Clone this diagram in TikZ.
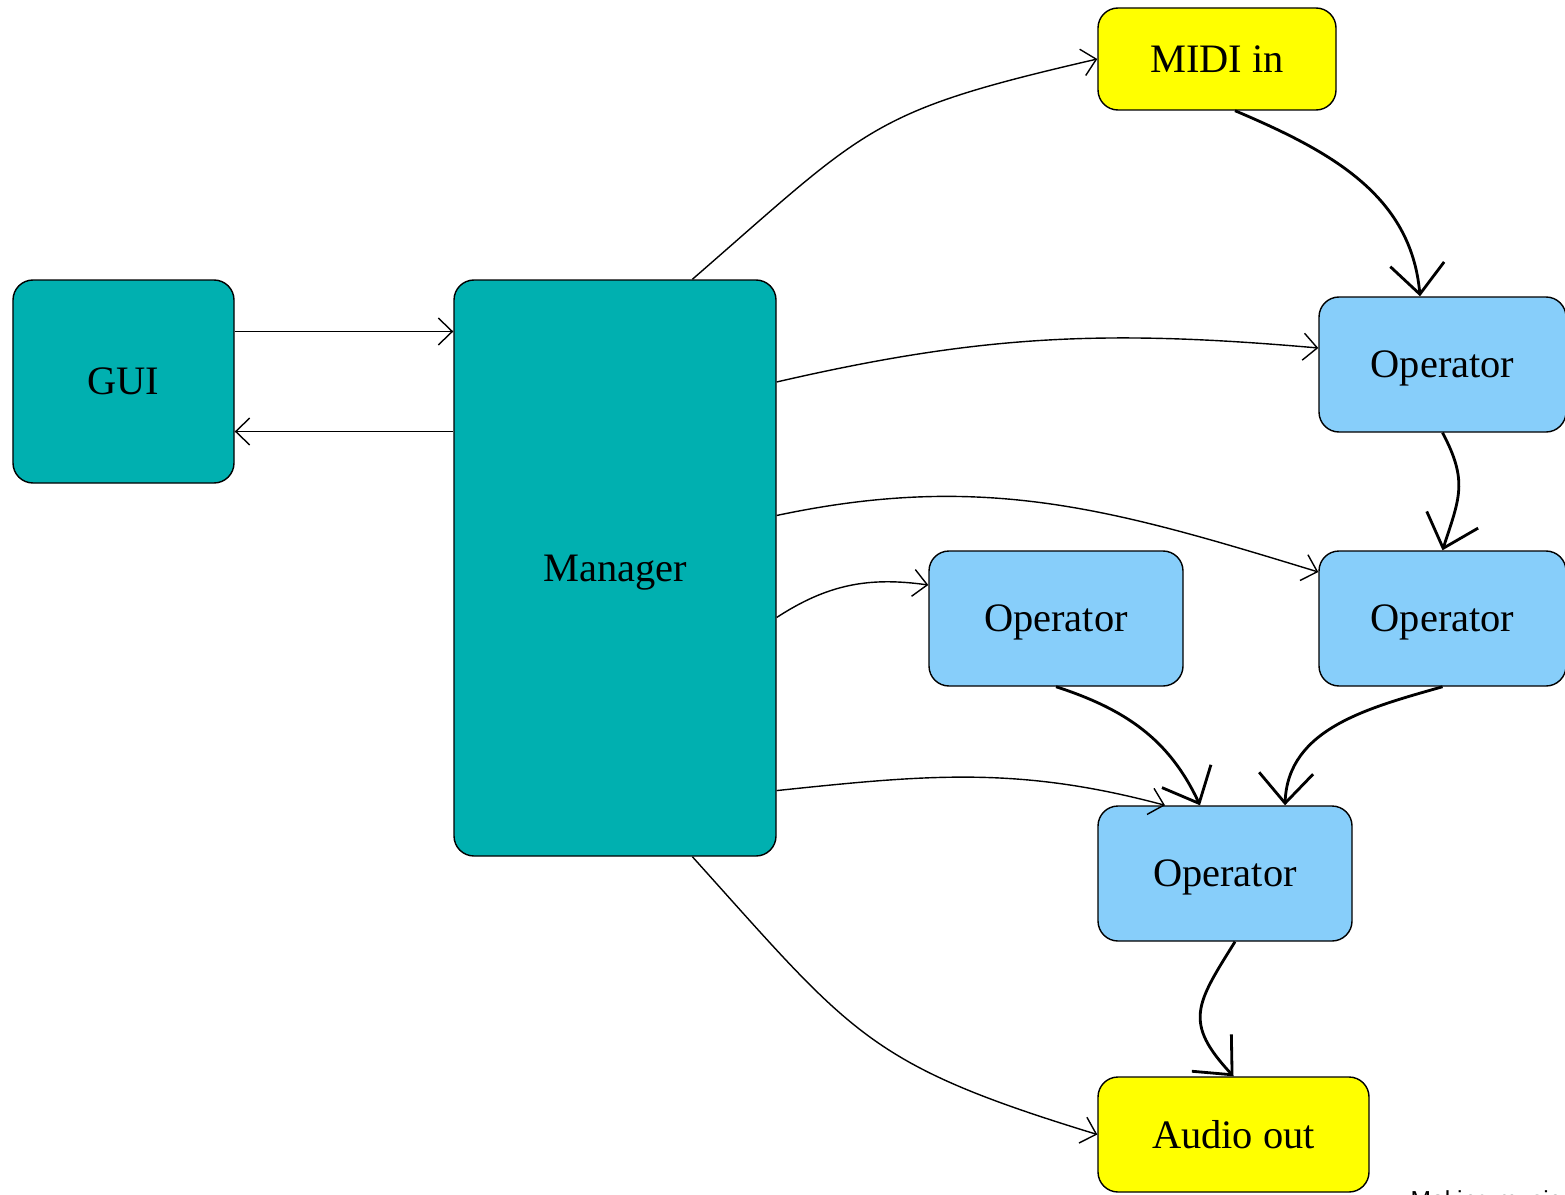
\documentclass[tikz,border=0pt]{standalone}
\usepackage{fontspec}
\setmainfont{Liberation Serif}
\setsansfont{Liberation Sans}
\usepackage{tikz}
\usetikzlibrary{arrows.meta}

\definecolor{mgrteal}{RGB}{0,176,176}
\definecolor{opblue}{RGB}{135,206,250}
\definecolor{ioyellow}{RGB}{255,255,0}

\begin{document}
\begin{tikzpicture}[>={Straight Barb[length=1.4mm,width=2.7mm]},auto]
  \tikzstyle{block}=[draw=black,rounded corners=2mm,inner sep=0pt,text=black,
                     text depth=0pt,font=\fontsize{11.5}{14}\selectfont]
  \tikzstyle{core}=[block,fill=mgrteal]
  \tikzstyle{op}=[block,fill=opblue,minimum width=2.54cm,minimum height=1.35cm]
  \tikzstyle{io}=[block,fill=ioyellow]
  \tikzstyle{flow}=[->,thick,>={Straight Barb[length=3mm,width=5.4mm]}]

  \useasboundingbox (0,0) rectangle (15.65,11.94);

  \node[core,minimum width=2.21cm,minimum height=2.03cm] (G) at (1.235,8.125) {GUI};
  \node[core,minimum width=3.22cm,minimum height=5.76cm] (M) at (6.15,6.26)   {Manager};
  \node[io,minimum width=2.38cm,minimum height=1.02cm]   (I) at (12.17,11.35) {MIDI in};
  \node[op,minimum width=2.47cm] (A) at (14.425,8.295) {Operator};
  \node[op,minimum width=2.47cm] (B) at (14.425,5.755) {Operator};
  \node[op]                      (C) at (10.56,5.755)  {Operator};
  \node[op]                      (D) at (12.25,3.205)  {Operator};
  \node[io,minimum width=2.71cm,minimum height=1.15cm]   (O) at (12.335,0.595) {Audio out};
  \node[font=\sffamily\fontsize{7}{8}\selectfont,anchor=north west,inner sep=0pt]
       (T) at (14.1,0.04) {Making music};

  % control
  \path[->] ([yshift=5mm]G.east)  edge ([yshift=5mm]G.east -| M.west)
            ([yshift=-5mm]G.east -| M.west) edge ([yshift=-5mm]G.east)
            (M.75)  edge [out=41,in=193,looseness=1.3]  (I.west)
            (M.49)  edge [out=13,in=175]  ([yshift=1.65mm]A.west)
            (M.18)  edge [out=12,in=163]  ([yshift=4.65mm]B.west)
            (M.-17) edge [out=33,in=172]  ([yshift=3.35mm]C.west)
            (M.-54) edge [out=6,in=165]   ([xshift=-6mm]D.north)
            (M.-75) edge [out=-48,in=163,looseness=1.25] (O.west);

  % signal
  \path[flow] ([xshift=1.8mm]I.south) edge [out=-23,in=95]   ([xshift=-2.25mm]A.north)
              (A.south)               edge [out=-62,in=72,looseness=1.2]   (B.north)
              (C.south)               edge [out=-18,in=115]  ([xshift=-2.5mm]D.north)
              (B.south)               edge [out=196,in=88]   ([xshift=6mm]D.north)
              ([xshift=1mm]D.south)   edge [out=-122,in=133,looseness=1.4] (O.north);
\end{tikzpicture}
\end{document}
